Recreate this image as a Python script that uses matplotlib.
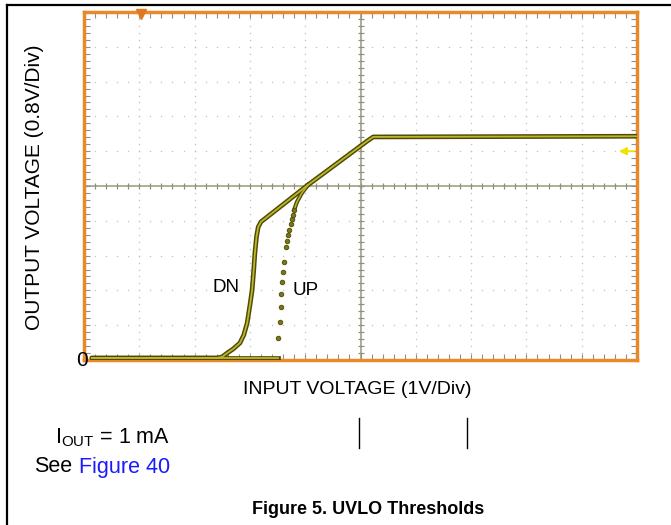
import numpy as np
import matplotlib
matplotlib.use('Agg')
import matplotlib.pyplot as plt
from matplotlib.ticker import MultipleLocator

plt.rcParams['font.family'] = ['Liberation Sans', 'DejaVu Sans']
plt.rcParams['mathtext.fontset'] = 'custom'
plt.rcParams['mathtext.rm'] = 'Liberation Sans'

# scope traces, in divisions (x: 1V/div, y: 0.8V/div)
dn_x = [0.14, 2.41, 2.50, 2.59, 2.70, 2.82, 2.89, 2.95, 3.00, 3.04, 3.07, 3.09, 3.12, 3.15, 3.20,
        4.05, 5.12, 5.23, 10.0]
dn_y = [0.06, 0.06, 0.09, 0.20, 0.32, 0.49, 0.72, 1.06, 1.57, 2.01, 2.60, 3.07, 3.55, 3.82, 3.97,
        5.03, 6.29, 6.41, 6.43]

up_flat_x = [0.14, 3.51]
up_flat_y = [0.06, 0.06]
up_dot_x = [3.51, 3.54, 3.56, 3.56, 3.58, 3.60, 3.62, 3.65, 3.67, 3.69, 3.71, 3.74, 3.76, 3.78, 3.80]
up_dot_y = [0.63, 1.09, 1.52, 1.90, 2.24, 2.53, 2.82, 3.25, 3.42, 3.59, 3.74, 3.91, 4.05, 4.17, 4.31]
up_top_x = [3.80, 3.85, 3.94, 4.05]
up_top_y = [4.31, 4.54, 4.80, 5.03]

W, H = 671, 525
fig = plt.figure(figsize=(W / 100, H / 100), dpi=100)

def fx(px):
    return px / W

def fy(py):
    return 1 - py / H

ax = fig.add_axes([fx(84), fy(360), fx(637) - fx(84), fy(12) - fy(360)])
ax.set_xlim(0, 10)
ax.set_ylim(0, 10)

orange = '#e8892a'
for s in ax.spines.values():
    s.set_color(orange)
    s.set_linewidth(2.5)
ax.xaxis.set_major_locator(MultipleLocator(0.2))
ax.yaxis.set_major_locator(MultipleLocator(0.2))
ax.tick_params(direction='in', length=4, width=0.8, color='#909080',
               top=True, right=True, labelbottom=False, labelleft=False)

# dotted graticule
steps = np.arange(0.2, 10, 0.2)
for k in range(1, 10):
    if k == 5:
        continue
    ax.scatter(np.full(len(steps), k), steps, s=1.2, color='#c4c4c4', lw=0, zorder=1)
    ax.scatter(steps, np.full(len(steps), k), s=1.2, color='#c4c4c4', lw=0, zorder=1)

# centre cross with ticks
ax.axvline(5, color='#a8a890', lw=1.3, zorder=1)
ax.axhline(5, color='#a8a890', lw=1.3, zorder=1)
ax.plot(steps, np.full(len(steps), 5), ls='none', marker='|', ms=5, mew=0.9, color='#909080', zorder=1)
ax.plot(np.full(len(steps), 5), steps, ls='none', marker='_', ms=5, mew=0.9, color='#909080', zorder=1)

dark = '#4d4a05'
core = '#bdb52a'
# DN trace
ax.plot(dn_x, dn_y, color=dark, lw=3.4, solid_capstyle='round', solid_joinstyle='round', zorder=3)
ax.plot(dn_x, dn_y, color=core, lw=1.3, solid_joinstyle='round', zorder=4)
# UP trace
ax.plot(up_flat_x, up_flat_y, color=dark, lw=3.4, zorder=3)
ax.plot(up_flat_x, up_flat_y, color=core, lw=1.3, zorder=4)
ax.plot(up_top_x, up_top_y, color=dark, lw=3.0, solid_joinstyle='round', zorder=3)
ax.plot(up_top_x, up_top_y, color=core, lw=1.1, zorder=4)
ax.plot(up_dot_x, up_dot_y, ls='none', marker='o', ms=3.3, mfc='#7a7515', mec=dark, mew=0.6, zorder=4)

# trigger and level markers
ax.plot([1.03], [9.93], marker='v', ms=7, color='#e07820', clip_on=False, zorder=5)
ax.annotate('', xy=(9.62, 6.0), xytext=(10.0, 6.0),
            arrowprops=dict(arrowstyle='-|>', color='#f2e200', lw=1.4, mutation_scale=11))

ax.text(2.57, 2.07, 'DN', fontsize=13.5, ha='center', va='center')
ax.text(4.0, 2.0, 'UP', fontsize=13.5, ha='center', va='center')

fig.text(fx(82), fy(361), '0', fontsize=15, ha='center', va='center')
fig.text(fx(35), fy(187), 'OUTPUT VOLTAGE (0.8V/Div)', fontsize=15, rotation=90,
         ha='center', va='center')
fig.text(fx(357), fy(389), 'INPUT VOLTAGE (1V/Div)', fontsize=14, ha='center', va='center')
fig.text(fx(55), fy(438), r'$\mathrm{I_{OUT}}$ = 1 mA', fontsize=15.5, ha='left', va='center')
fig.text(fx(34), fy(467), 'See', fontsize=15.5, ha='left', va='center')
fig.text(fx(79), fy(467), 'Figure 40', fontsize=15.5, ha='left', va='center', color='#1a1aff')
fig.text(fx(368), fy(510), 'Figure 5. UVLO Thresholds', fontsize=13, fontweight='bold',
         ha='center', va='center')

# page decorations
fig.add_artist(plt.Line2D([fx(7), 1], [fy(5), fy(5)], color='black', lw=1.6))
fig.add_artist(plt.Line2D([fx(7), fx(7)], [fy(5), 0], color='black', lw=1.6))
fig.add_artist(plt.Line2D([fx(359), fx(359)], [fy(418), fy(448)], color='black', lw=1))
fig.add_artist(plt.Line2D([fx(467), fx(467)], [fy(418), fy(448)], color='black', lw=1))

fig.savefig('out.png', dpi=100)
